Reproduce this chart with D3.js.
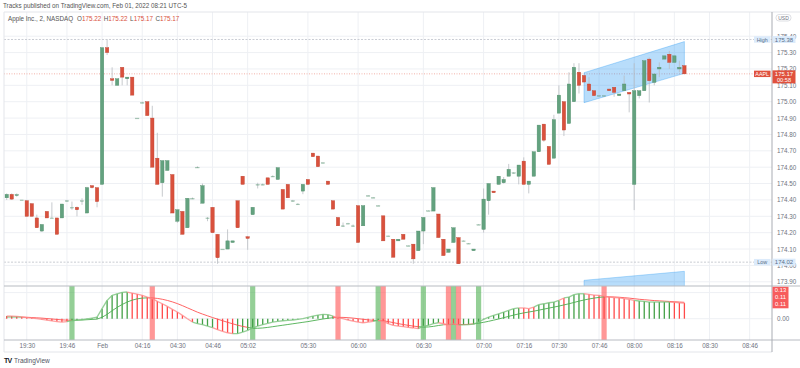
<!DOCTYPE html>
<html lang="en">
<head>
<meta charset="utf-8">
<script src="https://d3js.org/d3.v7.min.js"></script>
<title>AAPL 2m</title>
<style>
  body { margin: 0; background: #fff; }
  svg { display: block; font-family: "Liberation Sans", Arial, sans-serif; }
</style>
</head>
<body>
<script>
var width = 800, height = 368;

// 2 minute bars, oldest first
var opens = [
  174.413,174.434,174.428,174.40,174.395,174.377,174.29,174.21,174.33,174.29,
  174.29,174.29,174.395,174.355,174.355,174.395,174.32,174.487,174.475,174.495,
  175.33,175.14,175.10,175.21,175.14,175.15,174.90,174.995,175.00,174.90,
  174.655,174.505,174.58,174.555,174.27,174.33,174.23,174.41,174.60,174.38,
  174.29,174.355,174.19,174.10,174.10,174.14,174.395,174.545,174.175,174.31,
  174.495,174.495,174.535,174.545,174.525,174.464,174.495,174.395,174.375,174.454,
  174.525,174.686,174.668,174.627,174.515,174.395,174.293,174.242,174.257,174.242,
  174.365,174.242,174.426,174.415,174.365,174.303,174.18,174.16,174.15,174.19,
  174.12,174.13,174.09,174.21,174.334,174.332,174.314,174.16,174.08,174.14,
  174.17,174.15,174.135,174.09,174.25,174.22,174.395,174.454,174.495,174.505,
  174.545,174.566,174.545,174.637,174.495,174.545,174.694,174.863,174.727,174.655,
  174.93,175.00,174.867,175.00,175.18,175.16,175.108,175.067,175.037,175.037,
  175.077,175.088,175.037,175.067,175.057,174.495,175.037,175.067,175.26,175.118,
  175.20,175.26,175.29,175.24,175.20,175.22
];
var highs = [
  174.44,174.44,174.44,174.40,174.40,174.38,174.31,174.25,174.33,174.385,
  174.29,174.375,174.40,174.39,174.36,174.41,174.48,174.49,174.475,175.33,
  175.38,175.21,175.14,175.21,175.15,175.15,174.90,175.00,175.00,174.975,
  174.81,174.64,174.64,174.555,174.34,174.33,174.41,174.415,174.605,174.50,
  174.295,174.355,174.19,174.10,174.22,174.15,174.395,174.545,174.18,174.355,
  174.505,174.50,174.535,174.55,174.597,174.464,174.495,174.40,174.38,174.495,
  174.525,174.686,174.668,174.63,174.515,174.395,174.293,174.262,174.26,174.25,
  174.365,174.365,174.43,174.418,174.368,174.303,174.182,174.16,174.16,174.19,
  174.122,174.13,174.21,174.293,174.336,174.475,174.314,174.16,174.10,174.23,
  174.17,174.152,174.137,174.10,174.252,174.47,174.50,174.454,174.545,174.54,
  174.62,174.57,174.613,174.66,174.515,174.694,174.857,174.863,174.727,174.92,
  175.10,175.00,175.18,175.235,175.235,175.16,175.15,175.067,175.04,175.04,
  175.08,175.088,175.047,175.16,175.057,175.235,175.067,175.25,175.27,175.169,
  175.24,175.28,175.31,175.28,175.25,175.22
];
var lows = [
  174.40,174.40,174.42,174.40,174.30,174.30,174.23,174.205,174.29,174.29,
  174.19,174.29,174.39,174.34,174.30,174.37,174.32,174.47,174.355,174.495,
  175.285,175.10,175.10,175.10,175.10,175.04,174.90,174.99,174.915,174.60,
  174.495,174.42,174.58,174.32,174.26,174.19,174.23,174.405,174.595,174.38,
  174.27,174.20,174.01,174.10,174.10,174.14,174.23,174.495,174.095,174.31,
  174.47,174.49,174.495,174.54,174.525,174.344,174.413,174.39,174.37,174.435,
  174.495,174.664,174.603,174.625,174.495,174.344,174.242,174.236,174.255,174.236,
  174.14,174.242,174.424,174.413,174.363,174.15,174.178,174.05,174.15,174.16,
  174.118,174.01,174.09,174.13,174.332,174.332,174.17,174.06,174.08,174.14,
  174.01,174.148,174.133,174.09,174.248,174.20,174.31,174.444,174.495,174.50,
  174.545,174.56,174.495,174.495,174.44,174.545,174.694,174.755,174.617,174.655,
  174.93,174.79,174.867,175.00,175.05,175.12,175.067,175.037,175.035,175.035,
  175.067,175.03,175.037,175.067,174.935,174.338,175.02,175.067,174.995,175.10,
  175.15,175.26,175.20,175.24,175.18,175.17
];
var closes = [
  174.434,174.405,174.432,174.40,174.30,174.30,174.23,174.25,174.29,174.29,
  174.19,174.375,174.395,174.355,174.34,174.395,174.475,174.475,174.39,175.33,
  175.30,175.13,175.14,175.15,175.15,175.04,174.90,174.995,174.915,174.60,
  174.495,174.64,174.64,174.32,174.34,174.19,174.41,174.41,174.60,174.487,
  174.29,174.20,174.047,174.10,174.15,174.15,174.23,174.495,174.165,174.355,
  174.495,174.495,174.495,174.545,174.597,174.344,174.413,174.395,174.375,174.495,
  174.495,174.664,174.603,174.627,174.495,174.344,174.242,174.242,174.257,174.242,
  174.14,174.365,174.426,174.415,174.365,174.15,174.18,174.05,174.16,174.16,
  174.12,174.04,174.21,174.293,174.334,174.475,174.17,174.06,174.10,174.23,
  174.01,174.15,174.135,174.10,174.25,174.405,174.50,174.444,174.545,174.525,
  174.587,174.566,174.613,174.495,174.515,174.694,174.857,174.765,174.617,174.89,
  175.04,174.827,175.108,175.21,175.10,175.12,175.067,175.037,175.037,175.037,
  175.067,175.057,175.047,175.108,175.047,175.067,175.067,175.25,175.128,175.169,
  175.21,175.28,175.24,175.28,175.21,175.17
];

// oscillator pane
var fastLine = [
  0.018,0.018,0.016,0.012,0.008,0.004,0.000,-0.005,-0.010,-0.015,
  -0.020,-0.023,-0.020,-0.014,-0.010,-0.006,-0.002,0.004,0.011,0.069,
  0.126,0.161,0.172,0.182,0.184,0.177,0.170,0.161,0.149,0.138,
  0.120,0.103,0.085,0.064,0.046,0.023,0.000,-0.023,-0.034,-0.041,
  -0.051,-0.062,-0.076,-0.087,-0.097,-0.103,-0.103,-0.092,-0.080,-0.064,
  -0.051,-0.041,-0.032,-0.023,-0.018,-0.014,-0.011,-0.009,-0.005,0.000,
  0.009,0.018,0.025,0.030,0.028,0.018,0.006,0.000,-0.009,-0.016,
  -0.023,-0.028,-0.023,-0.018,-0.011,-0.018,-0.034,-0.046,-0.051,-0.055,
  -0.060,-0.064,-0.069,-0.052,-0.046,-0.034,-0.028,-0.034,-0.043,-0.036,
  -0.042,-0.043,-0.041,-0.038,-0.023,-0.005,0.011,0.023,0.034,0.046,
  0.057,0.069,0.074,0.074,0.069,0.080,0.097,0.103,0.110,0.115,
  0.126,0.143,0.149,0.166,0.172,0.172,0.168,0.163,0.161,0.156,
  0.149,0.145,0.143,0.138,0.133,0.126,0.122,0.120,0.115,0.115,
  0.115,0.115,0.115,0.113,0.110,0.108
];
var slowLine = [
  0.012,0.012,0.012,0.011,0.010,0.008,0.006,0.004,0.001,-0.002,
  -0.005,-0.008,-0.010,-0.011,-0.010,-0.009,-0.007,-0.005,-0.003,0.010,
  0.030,0.055,0.078,0.098,0.115,0.128,0.137,0.142,0.144,0.143,
  0.140,0.134,0.126,0.116,0.104,0.090,0.075,0.060,0.045,0.032,
  0.020,0.008,-0.003,-0.014,-0.025,-0.035,-0.045,-0.053,-0.060,-0.066,
  -0.066,-0.064,-0.060,-0.055,-0.050,-0.045,-0.040,-0.035,-0.030,-0.025,
  -0.020,-0.014,-0.008,-0.002,0.003,0.007,0.009,0.009,0.007,0.004,
  0.000,-0.004,-0.008,-0.011,-0.013,-0.014,-0.020,-0.027,-0.034,-0.040,
  -0.046,-0.051,-0.055,-0.058,-0.057,-0.053,-0.047,-0.042,-0.040,-0.039,
  -0.040,-0.040,-0.039,-0.036,-0.031,-0.025,-0.018,-0.010,-0.002,0.007,
  0.016,0.025,0.033,0.040,0.046,0.052,0.059,0.066,0.073,0.080,
  0.087,0.095,0.103,0.112,0.121,0.129,0.136,0.142,0.147,0.151,
  0.151,0.150,0.148,0.145,0.142,0.138,0.134,0.131,0.128,0.125,
  0.123,0.121,0.119,0.117,0.115,0.113
];
// 1 = green histogram bar, 0 = red
var histUp = [
  0,0,0,0,0,0,0,0,0,0, 0,0,0,1,1,1,1,1,1,1,
  1,1,1,1,1,0,0,0,0,0, 0,0,0,0,0,0,0,0,1,1,
  1,1,0,0,0,0,1,1,1,1, 1,1,1,1,1,1,1,1,1,1,
  1,1,1,1,1,1,0,0,0,0, 0,0,0,0,1,0,0,0,0,0,
  0,0,0,1,1,1,1,0,0,0, 0,1,1,1,1,1,1,1,1,1,
  1,1,1,0,0,0,1,1,1,1, 1,0,1,1,1,1,0,0,0,0,
  0,0,0,0,0,0,1,1,1,1, 1,1,1,0,0,0
];
var crossUp = [13, 49, 74, 83, 89, 94];
var crossDown = [29, 66, 75, 88, 90, 119];
var oscLabels = ["0.13", "0.11", "0.11"];

// time axis
var timeTickIdx = [4, 12, 19, 27, 34, 41, 48, 60, 70, 83, 95, 103, 110, 118, 125, 133, 140, 148];
var timeTickLabels = ["19:30","19:46","Feb","04:16","04:30","04:46","05:02","05:30","06:00",
                      "06:30","07:00","07:16","07:30","07:46","08:00","08:16","08:30","08:46"];
var priceTicks = [173.9,174.0,174.1,174.2,174.3,174.4,174.5,174.6,174.7,174.8,174.9,175.0,175.1,175.2,175.3,175.4];

// drawings
var channelIdx = [115, 135];
var channelTop = [175.177, 175.367];
var channelBottom = [174.994, 175.173];
var wedgeTop = [173.909, 173.964];
var wedgeBase = 173.80;

var highVal = 175.38, lowVal = 174.02, lastVal = 175.17;

var green = "#63a27f", greenEdge = "#4f8d6a", red = "#d9513d", redEdge = "#c0412f";
var gridCol = "#eef0f4", textCol = "#6f7380";

var padL = 4, padT = 12, axisX = 772, mainBottom = 286, oscBottom = 340, timeBottom = 352;

var svg = d3.select("body").append("svg")
  .attr("width", width).attr("height", height);

var x = d3.scaleLinear().domain([0, 135]).range([6.7, 684.4]);
var y = d3.scaleLinear().domain([173.9, 175.4]).range([281.8, 36.2]);
var y2 = d3.scaleLinear().domain([0, 0.1]).range([318.7, 304.2]);

var defs = svg.append("defs");
defs.append("clipPath").attr("id", "mainClip")
  .append("rect").attr("x", padL).attr("y", padT).attr("width", axisX - padL).attr("height", mainBottom - padT);
defs.append("clipPath").attr("id", "oscClip")
  .append("rect").attr("x", padL).attr("y", mainBottom).attr("width", axisX - padL).attr("height", oscBottom - mainBottom);

// header
svg.append("text").attr("x", 3).attr("y", 8).attr("font-size", 6.3).attr("fill", "#555")
  .text("Tracks published on TradingView.com, Feb 01, 2022 08:21 UTC-5");

// grid
var grid = svg.append("g");
grid.selectAll("line.h").data(priceTicks).join("line").attr("class", "h")
  .attr("x1", padL).attr("x2", axisX).attr("y1", d => y(d)).attr("y2", d => y(d))
  .attr("stroke", gridCol);
grid.selectAll("line.v").data(timeTickIdx).join("line").attr("class", "v")
  .attr("x1", d => x(d)).attr("x2", d => x(d)).attr("y1", padT).attr("y2", oscBottom)
  .attr("stroke", gridCol);
grid.append("line").attr("x1", padL).attr("x2", axisX).attr("y1", y2(0.18)).attr("y2", y2(0.18)).attr("stroke", gridCol);
grid.append("line").attr("x1", padL).attr("x2", axisX).attr("y1", y2(0)).attr("y2", y2(0)).attr("stroke", gridCol);

// main pane
var main = svg.append("g").attr("clip-path", "url(#mainClip)");

main.append("line").attr("x1", padL).attr("x2", axisX).attr("y1", y(highVal)).attr("y2", y(highVal))
  .attr("stroke", "#c9ccd3").attr("stroke-dasharray", "2,1.5");
main.append("line").attr("x1", padL).attr("x2", axisX).attr("y1", y(lowVal)).attr("y2", y(lowVal))
  .attr("stroke", "#c9ccd3").attr("stroke-dasharray", "2,1.5");
main.append("line").attr("x1", padL).attr("x2", axisX).attr("y1", y(lastVal)).attr("y2", y(lastVal))
  .attr("stroke", "#f3b1a8").attr("stroke-dasharray", "1,1.5");

// channel drawing
var chanPts = [
  [x(channelIdx[0]), y(channelTop[0])], [x(channelIdx[1]), y(channelTop[1])],
  [x(channelIdx[1]), y(channelBottom[1])], [x(channelIdx[0]), y(channelBottom[0])]
];
main.append("polygon").attr("points", chanPts.map(p => p.join(",")).join(" "))
  .attr("fill", "rgba(33,150,243,0.32)").attr("stroke", "rgba(33,150,243,0.55)").attr("stroke-width", 0.6);
var wedgePts = [
  [x(channelIdx[0]), y(wedgeTop[0])], [x(channelIdx[1]), y(wedgeTop[1])],
  [x(channelIdx[1]), y(wedgeBase)], [x(channelIdx[0]), y(wedgeBase)]
];
main.append("polygon").attr("points", wedgePts.map(p => p.join(",")).join(" "))
  .attr("fill", "rgba(33,150,243,0.32)").attr("stroke", "rgba(33,150,243,0.5)").attr("stroke-width", 0.6);

var bars = d3.range(opens.length);
main.selectAll("line.wick").data(bars).join("line").attr("class", "wick")
  .attr("x1", i => x(i)).attr("x2", i => x(i))
  .attr("y1", i => y(highs[i])).attr("y2", i => y(lows[i]))
  .attr("stroke", "#b9bcc2").attr("stroke-width", 0.8);
main.selectAll("rect.body").data(bars).join("rect").attr("class", "body")
  .attr("x", i => x(i) - 1.7).attr("width", 3.4)
  .attr("y", i => y(Math.max(opens[i], closes[i])))
  .attr("height", i => Math.max(0.8, Math.abs(y(opens[i]) - y(closes[i]))))
  .attr("fill", i => closes[i] >= opens[i] ? green : red)
  .attr("stroke", i => closes[i] >= opens[i] ? greenEdge : redEdge)
  .attr("stroke-width", 0.4)
  .attr("opacity", i => opens[i] === closes[i] ? 0.55 : 1);

// oscillator pane
var osc = svg.append("g").attr("clip-path", "url(#oscClip)");
osc.selectAll("rect.xu").data(crossUp).join("rect").attr("class", "xu")
  .attr("x", i => x(i) - 2.6).attr("width", 5.2).attr("y", mainBottom).attr("height", oscBottom - mainBottom)
  .attr("fill", "rgba(76,175,80,0.6)");
osc.selectAll("rect.xd").data(crossDown).join("rect").attr("class", "xd")
  .attr("x", i => x(i) - 2.6).attr("width", 5.2).attr("y", mainBottom).attr("height", oscBottom - mainBottom)
  .attr("fill", "rgba(255,82,82,0.6)");

osc.selectAll("line.hist").data(bars).join("line").attr("class", "hist")
  .attr("x1", i => x(i)).attr("x2", i => x(i))
  .attr("y1", y2(0)).attr("y2", i => y2(fastLine[i]))
  .attr("stroke", i => histUp[i] ? "#43a047" : "#ff4a4a").attr("stroke-width", 1.3);

var segs = d3.range(opens.length - 1);
osc.selectAll("line.slow").data(segs).join("line").attr("class", "slow")
  .attr("x1", i => x(i)).attr("x2", i => x(i + 1))
  .attr("y1", i => y2(slowLine[i])).attr("y2", i => y2(slowLine[i + 1]))
  .attr("stroke", i => fastLine[i + 1] >= slowLine[i + 1] ? "#4caf50" : "#ff5252")
  .attr("stroke-width", 0.9);
osc.selectAll("line.fast").data(segs).join("line").attr("class", "fast")
  .attr("x1", i => x(i)).attr("x2", i => x(i + 1))
  .attr("y1", i => y2(fastLine[i])).attr("y2", i => y2(fastLine[i + 1]))
  .attr("stroke", i => histUp[i + 1] ? "#7cc57f" : "#ff8a8a")
  .attr("stroke-width", 1.3).attr("opacity", 0.8);

// frame
var frame = svg.append("g").attr("fill", "none");
frame.append("line").attr("x1", padL).attr("x2", width).attr("y1", padT).attr("y2", padT).attr("stroke", "#e3e5ea");
frame.append("line").attr("x1", padL).attr("x2", padL).attr("y1", padT).attr("y2", timeBottom).attr("stroke", "#e3e5ea");
frame.append("line").attr("x1", padL).attr("x2", width).attr("y1", mainBottom).attr("y2", mainBottom).attr("stroke", "#b8bbc2").attr("stroke-width", 1.2);
frame.append("line").attr("x1", padL).attr("x2", width).attr("y1", oscBottom).attr("y2", oscBottom).attr("stroke", "#b8bbc2");
frame.append("line").attr("x1", padL).attr("x2", axisX).attr("y1", timeBottom).attr("y2", timeBottom).attr("stroke", "#e3e5ea");
frame.append("line").attr("x1", axisX).attr("x2", axisX).attr("y1", padT).attr("y2", timeBottom).attr("stroke", "#a9acb3");

// legend
var leg = svg.append("text").attr("x", 8).attr("y", 21).attr("font-size", 6.3).attr("fill", "#555");
leg.append("tspan").text("Apple Inc., 2, NASDAQ");
[["O", opens[135]], ["H", highs[135]], ["L", lows[135]], ["C", closes[135]]].forEach(function (p, k) {
  leg.append("tspan").attr("dx", k === 0 ? 4 : 2.5).attr("fill", "#555").text(p[0]);
  leg.append("tspan").attr("fill", red).text(p[1].toFixed(2));
});

// price axis
var pAxis = svg.append("g").attr("transform", "translate(" + axisX + ",0)")
  .call(d3.axisRight(y).tickValues(priceTicks).tickFormat(d3.format(".2f")).tickSize(0).tickPadding(5));
pAxis.select(".domain").remove();
pAxis.selectAll("text").attr("font-size", 6.3).attr("fill", textCol).attr("font-family", "Liberation Sans, Arial, sans-serif");

var oAxis = svg.append("g").attr("transform", "translate(" + axisX + ",0)")
  .call(d3.axisRight(y2).tickValues([0]).tickFormat(d3.format(".2f")).tickSize(0).tickPadding(5));
oAxis.select(".domain").remove();
oAxis.selectAll("text").attr("font-size", 6.3).attr("fill", textCol).attr("font-family", "Liberation Sans, Arial, sans-serif");

// USD badge
svg.append("rect").attr("x", 776).attr("y", 14.5).attr("width", 15).attr("height", 6.5).attr("rx", 3)
  .attr("fill", "#fff").attr("stroke", "#c8cad0").attr("stroke-width", 0.6);
svg.append("text").attr("x", 783.5).attr("y", 19.6).attr("text-anchor", "middle").attr("font-size", 5).attr("fill", textCol).text("USD");

// price tags
function tag(yy, name, val, fill, txt, h) {
  svg.append("rect").attr("x", 754).attr("y", yy - 3.2).attr("width", 16.5).attr("height", 6.4).attr("fill", fill);
  svg.append("text").attr("x", 762.2).attr("y", yy + 2.1).attr("text-anchor", "middle").attr("font-size", 5.4).attr("fill", txt).text(name);
  svg.append("rect").attr("x", axisX + 0.5).attr("y", yy - 3.5).attr("width", 23).attr("height", h).attr("fill", fill);
  svg.append("text").attr("x", axisX + 12).attr("y", yy + 2.2).attr("text-anchor", "middle").attr("font-size", 6).attr("fill", txt).text(val);
}
tag(y(highVal), "High", highVal.toFixed(2), "#dcebfb", "#5a6f88", 7);
tag(y(lowVal), "Low", lowVal.toFixed(2), "#dcebfb", "#5a6f88", 7);
tag(y(lastVal), "AAPL", lastVal.toFixed(2), "#e0513d", "#fff", 13);
svg.append("text").attr("x", axisX + 12).attr("y", y(lastVal) + 8.5).attr("text-anchor", "middle")
  .attr("font-size", 5.6).attr("fill", "#fff").text("00:58");

// oscillator value tags
svg.append("rect").attr("x", axisX + 0.5).attr("y", 286.8).attr("width", 16).attr("height", 21.5).attr("fill", "#f75c5c");
svg.selectAll("text.ol").data(oscLabels).join("text").attr("class", "ol")
  .attr("x", axisX + 8.5).attr("y", (d, k) => 291.6 + k * 7).attr("text-anchor", "middle")
  .attr("font-size", 5.8).attr("fill", "#fff").text(d => d);

// time axis
var tAxis = svg.append("g").attr("transform", "translate(0," + oscBottom + ")")
  .call(d3.axisBottom(x).tickValues(timeTickIdx).tickFormat((d, k) => timeTickLabels[k]).tickSize(0).tickPadding(4));
tAxis.select(".domain").remove();
tAxis.selectAll("text").attr("font-size", 6.3).attr("fill", textCol).attr("font-family", "Liberation Sans, Arial, sans-serif");

// footer logo
svg.append("text").attr("x", 4).attr("y", 362.5).attr("font-size", 7).attr("font-weight", "bold")
  .attr("fill", "#131722").attr("letter-spacing", -0.8).text("TV");
svg.append("text").attr("x", 14).attr("y", 362.5).attr("font-size", 6.5).attr("fill", "#50535e").text("TradingView");

console.log('ready..');
</script>
</body>
</html>
